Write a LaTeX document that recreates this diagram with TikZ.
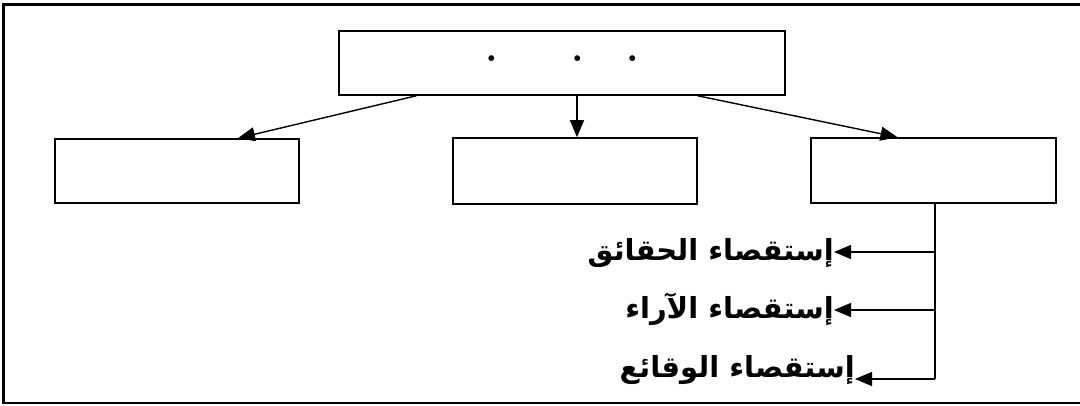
\documentclass[tikz,border=0pt]{standalone}
\usepackage{fontspec}
\newfontfamily\arabicfont[Script=Arabic]{DejaVu Sans}
\TeXXeTstate=1
\usetikzlibrary{arrows.meta}
\tikzset{
  box/.style={draw, line width=1.6pt, minimum width=#1, inner sep=0pt},
  conn/.style={line width=1.4pt, -{Triangle[length=17pt,width=14pt]}},
  branch/.style={line width=1.3pt},
  lbl/.style={font=\arabicfont\bfseries\fontsize{29}{34}\selectfont, inner sep=0pt, anchor=base east},
  dot/.style={inner sep=0pt, font=\fontsize{40}{40}\selectfont\bfseries}
}
\begin{document}
\begin{tikzpicture}[x=1pt,y=-1pt]
\useasboundingbox (0,0) rectangle (1080,405);
\clip (0,0) rectangle (1080,405);
\draw[line width=2.2pt] (1100,4.5) -- (3.5,4.5) -- (3.5,403) -- (1100,403);
\node[box=446pt, minimum height=64pt] (top) at (562,63) {};
\node[box=244pt, minimum height=66pt] (mid) at (575,171) {};
\node[box=244pt, minimum height=64pt] (left) at (177,171) {};
\node[box=245pt, minimum height=65pt] (right) at (933.5,170.5) {};
\node[dot, anchor=base] (d1) at (492,61) {.};
\node[dot, anchor=base] (d2) at (578,61) {.};
\node[dot, anchor=base] (d3) at (633,61) {.};
% connectors
\coordinate (tl) at ([xshift=78pt]top.south west);
\coordinate (tr) at ([xshift=-88pt]top.south east);
\coordinate (lt) at ([xshift=61pt]left.north);
\coordinate (rt) at ([xshift=-36pt]right.north);
\draw[conn] (tl) -- (lt);
\draw[conn] (top.south -| 577,0) -- (mid.north -| 577,0);
\draw[conn] (tr) -- (rt);
% branches
\coordinate (v0) at (right.south -| 935,0);
\coordinate (v1) at (935,252);
\coordinate (v2) at (935,310);
\coordinate (v3) at (935,379);
\node[lbl] (t1) at (834,260) {\beginR إستقصاء الحقائق\endR};
\node[lbl] (t2) at (834,318) {\beginR إستقصاء الآراء\endR};
\node[lbl] (t3) at (855,377) {\beginR إستقصاء الوقائع\endR};
\draw[branch] (v0) -- (v3);
\draw[conn, line width=1.3pt] (v1) -- (t1.east |- v1);
\draw[conn, line width=1.3pt] (v2) -- (t2.east |- v2);
\draw[conn, line width=1.3pt] (v3) -- (t3.east |- v3);
\end{tikzpicture}
\end{document}
